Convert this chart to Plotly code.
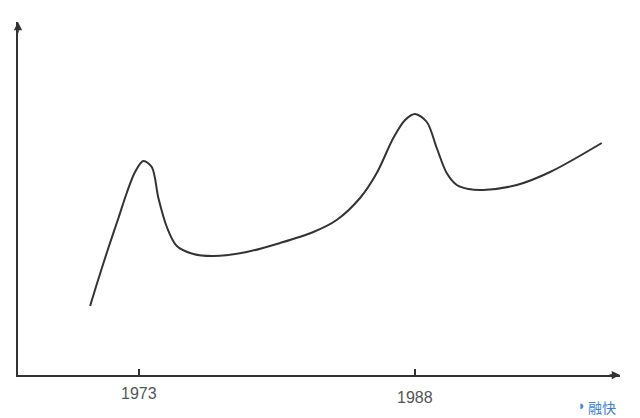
import plotly.graph_objects as go

# Curve values (x in years, y in arbitrary units)
years = [1970.34, 1970.79, 1971.33, 1971.88, 1972.33, 1972.78, 1973.23, 1973.69,
         1974.05, 1974.51, 1975.05, 1975.95, 1977.04, 1978.85, 1980.66, 1982.47,
         1983.74, 1985.01, 1985.92, 1986.82, 1987.46, 1988.0, 1988.64, 1989.18,
         1989.72, 1990.27, 1990.9, 1991.71, 1993.53, 1995.34, 1998.15]
values = [69, 96, 127, 157, 182, 203, 214, 208,
          177, 148, 129, 121, 119, 123, 132, 143,
          155, 177, 202, 237, 255, 261, 253, 227,
          202, 190, 186, 185, 190, 203, 232]
tick_years = [1973, 1988]
tick_labels = ["1973", "1988"]

x_range = [1966.42, 1999.14]
y_range = [0, 353]

fig = go.Figure()
fig.add_trace(go.Scatter(
    x=years, y=values, mode="lines",
    line=dict(color="#333333", width=2, shape="spline", smoothing=0.9),
    hoverinfo="skip", showlegend=False,
))

axis_color = "#333333"
fig.update_layout(
    width=632, height=410,
    margin=dict(l=10, r=20, t=14, b=43),
    paper_bgcolor="white", plot_bgcolor="white",
    xaxis=dict(range=x_range, showgrid=False, zeroline=False,
               showline=True, linecolor=axis_color, linewidth=1.5,
               tickvals=tick_years, ticktext=["", ""], ticks="inside",
               ticklen=6, tickcolor=axis_color, tickwidth=1.5, fixedrange=True),
    yaxis=dict(range=y_range, showgrid=False, zeroline=False,
               showline=True, linecolor=axis_color, linewidth=1.5,
               showticklabels=False, ticks="", fixedrange=True),
    font=dict(family="Liberation Sans, Arial, sans-serif", color="#555555"),
)

# Tick labels as annotations (slightly different vertical offsets as in reference)
label_offsets = [18, 22]
for yr, lab, off in zip(tick_years, tick_labels, label_offsets):
    fig.add_annotation(x=yr, y=0, xref="x", yref="y", text=lab, showarrow=False,
                       yshift=-off, font=dict(size=16, color="#555555"))

# Arrow heads on the axes
fig.add_annotation(x=1, y=0, xref="paper", yref="paper", ax=-12, ay=0,
                   axref="pixel", ayref="pixel", text="", showarrow=True,
                   arrowhead=2, arrowsize=1.1, arrowwidth=1.5, arrowcolor=axis_color)
fig.add_annotation(x=0, y=1, xref="paper", yref="paper", ax=0, ay=12,
                   axref="pixel", ayref="pixel", text="", showarrow=True,
                   arrowhead=2, arrowsize=1.1, arrowwidth=1.5, arrowcolor=axis_color)

# Watermark
fig.add_annotation(x=1, y=0, xref="paper", yref="paper", xanchor="right", yanchor="top",
                   xshift=-2, yshift=-20, text="融快", showarrow=False,
                   font=dict(family="Noto Sans CJK SC", size=14, color="#3d7fd6"))
fig.add_annotation(x=1, y=0, xref="paper", yref="paper", xanchor="right", yanchor="top",
                   xshift=-32, yshift=-21, text="◗", showarrow=False,
                   font=dict(size=13, color="#3d7fd6"))

fig.write_html("out.html")
